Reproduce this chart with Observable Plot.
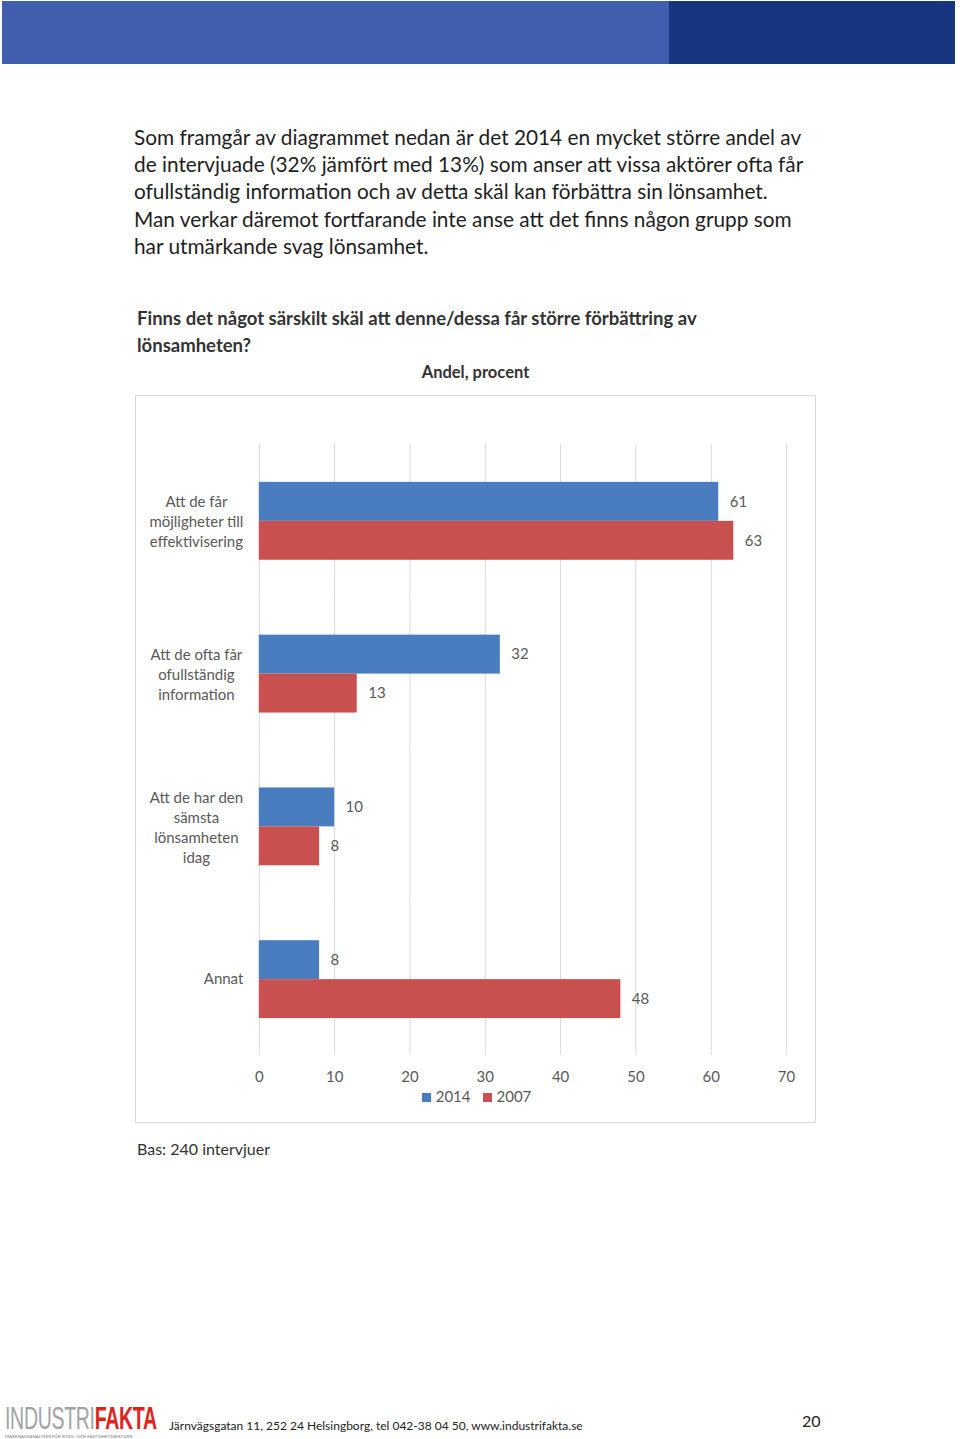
<!DOCTYPE html>
<html lang="sv">
<head>
<meta charset="utf-8">
<script src="https://cdn.jsdelivr.net/npm/d3@7"></script>
<script src="https://cdn.jsdelivr.net/npm/@observablehq/plot@0.6"></script>
<style>
  html, body { margin: 0; padding: 0; background: #fff; }
  body { width: 960px; height: 1439px; position: relative; overflow: hidden; font-family: Lato, "Open Sans", sans-serif; }
  .abs { position: absolute; white-space: nowrap; }
  #hdrL { left: 2px; top: 1px; width: 667px; height: 63px; background: #3f5eae; }
  #hdrR { left: 669px; top: 1px; width: 286px; height: 63px; background: #18367f; }
  #para { left: 134px; top: 123px; font-size: 20.8px; line-height: 27.2px; color: #1e1e1e; }
  #title { left: 137px; top: 305px; font-size: 18.5px; line-height: 27px; font-weight: bold; color: #333; }
  #sub { left: 135px; top: 362px; width: 681px; text-align: center; font-size: 16.5px; font-weight: bold; color: #333; }
  #box { left: 135px; top: 395px; width: 681px; height: 728px; box-sizing: border-box; border: 1px solid #d9d9d9; }
  #chart { position: absolute; left: -1px; top: -1px; }
  #legend { position: absolute; left: 0; top: 691px; width: 681px; text-align: center; font-size: 15px; color: #595959; }
  #legend span.sw { display: inline-block; width: 9px; height: 9px; margin-right: 5px; vertical-align: 0px; }
  #legend span.item { margin: 0 6px; }
  #bas { left: 137px; top: 1139px; font-size: 16px; color: #333; }
  #logo { left: 5px; top: 1403px; }
  #logo .big { font-family: "Liberation Sans", "DejaVu Sans", sans-serif; font-size: 31px; line-height: 31px; transform: scaleX(0.63); transform-origin: left top; letter-spacing: -0.5px; }
  #logo .g { color: #a3a3a3; }
  #logo .r { color: #e2231a; font-weight: bold; }
  #logo .small { font-size: 4.3px; color: #777; line-height: 6px; letter-spacing: 0.05px; }
  #addr { left: 169px; top: 1418px; font-size: 12px; color: #222; }
  #page { left: 802px; top: 1411px; font-size: 16px; color: #222; }
</style>
</head>
<body>
<div class="abs" id="hdrL"></div>
<div class="abs" id="hdrR"></div>
<div class="abs" id="para">Som framgår av diagrammet nedan är det 2014 en mycket större andel av<br>de intervjuade (32% jämfört med 13%) som anser att vissa aktörer ofta får<br>ofullständig information och av detta skäl kan förbättra sin lönsamhet.<br>Man verkar däremot fortfarande inte anse att det finns någon grupp som<br>har utmärkande svag lönsamhet.</div>
<div class="abs" id="title">Finns det något särskilt skäl att denne/dessa får större förbättring av<br>lönsamheten?</div>
<div class="abs" id="sub">Andel, procent</div>
<div class="abs" id="box">
  <div id="chart"></div>
  <div id="legend"></div>
</div>
<div class="abs" id="bas">Bas: 240 intervjuer</div>
<div class="abs" id="logo"><div class="big"><span class="g">INDUSTRI</span><span class="r">FAKTA</span></div><div class="small">MARKNADSANALYSER FÖR BYGG- OCH FASTIGHETSSEKTORN</div></div>
<div class="abs" id="addr">Järnvägsgatan 11, 252 24 Helsingborg, tel 042-38 04 50, www.industrifakta.se</div>
<div class="abs" id="page">20</div>
<script>
// ---- data ----
const categories = [
  "Att de får möjligheter till effektivisering",
  "Att de ofta får ofullständig information",
  "Att de har den sämsta lönsamheten idag",
  "Annat"
];
const categoryLabels = [
  "Att de får\nmöjligheter till\neffektivisering",
  "Att de ofta får\nofullständig\ninformation",
  "Att de har den\nsämsta\nlönsamheten\nidag",
  "Annat"
];
const series = ["2014", "2007"];
const values2014 = [61, 32, 10, 8];
const values2007 = [63, 13, 8, 48];
const xTicks = [0, 10, 20, 30, 40, 50, 60, 70];
const seriesColors = ["#4a7dc0", "#c8504e"];

// ---- build table ----
const rows = [];
categories.forEach((c, i) => {
  rows.push({cat: c, series: "2014", value: values2014[i]});
  rows.push({cat: c, series: "2007", value: values2007[i]});
});
const labelRows = categories.map((c, i) => ({cat: c, label: categoryLabels[i]}));

const chart = Plot.plot({
  width: 681,
  height: 690,
  marginLeft: 124,
  marginRight: 29,
  marginTop: 48,
  marginBottom: 29,
  style: {fontFamily: "Lato, 'Open Sans', sans-serif", fontSize: "15px", color: "#595959", background: "transparent"},
  x: {domain: [0, 70], ticks: xTicks, tickSize: 0, tickPadding: 16, label: null},
  fy: {domain: categories, padding: 0, axis: null, label: null},
  y: {domain: series, paddingInner: 0, paddingOuter: 0.92, axis: null},
  color: {domain: series, range: seriesColors},
  marks: [
    Plot.ruleX(xTicks, {stroke: "#d9d9d9", strokeWidth: 1}),
    Plot.barX(rows, {fy: "cat", y: "series", x: "value", fill: "series"}),
    Plot.text(rows, {fy: "cat", y: "series", x: "value", text: d => String(d.value), dx: 11, textAnchor: "start", fill: "#595959", fontSize: 15}),
    Plot.text(labelRows.filter(d => d.label.includes("\n")), {fy: "cat", text: "label", frameAnchor: "left", dx: -63, textAnchor: "middle", lineHeight: 1.33, fill: "#595959", fontSize: 15}),
    Plot.text(labelRows.filter(d => !d.label.includes("\n")), {fy: "cat", text: "label", frameAnchor: "left", dx: -16, textAnchor: "end", fill: "#595959", fontSize: 15})
  ]
});
document.getElementById("chart").appendChild(chart);

// legend
const legend = document.getElementById("legend");
series.forEach((s, i) => {
  const item = document.createElement("span");
  item.className = "item";
  const sw = document.createElement("span");
  sw.className = "sw";
  sw.style.background = seriesColors[i];
  item.appendChild(sw);
  item.appendChild(document.createTextNode(s));
  legend.appendChild(item);
});
</script>
</body>
</html>
